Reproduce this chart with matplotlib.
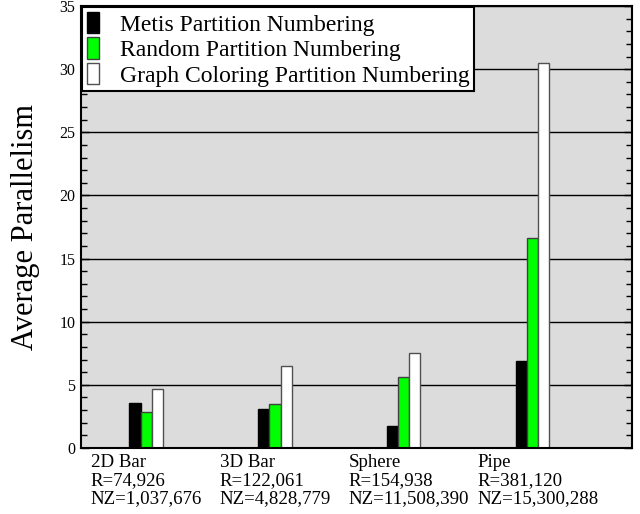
import matplotlib.pyplot as plt
import numpy as np
from matplotlib.ticker import MultipleLocator
from matplotlib.transforms import blended_transform_factory

# data
groups = ["2D Bar\nR=74,926\nNZ=1,037,676",
          "3D Bar\nR=122,061\nNZ=4,828,779",
          "Sphere\nR=154,938\nNZ=11,508,390",
          "Pipe\nR=381,120\nNZ=15,300,288"]
metis = [3.55, 3.1, 1.75, 6.85]
random_num = [2.85, 3.45, 5.65, 16.6]
coloring = [4.7, 6.5, 7.5, 30.45]
series_names = ["Metis Partition Numbering",
                "Random Partition Numbering",
                "Graph Coloring Partition Numbering"]

plt.rcParams['font.family'] = ['Liberation Serif', 'DejaVu Serif']

fig = plt.figure(figsize=(6.4, 5.14), dpi=100)
ax = fig.add_axes([81 / 640, 1 - 448 / 514, 551 / 640, 442 / 514])
ax.set_facecolor('#dcdcdc')

x = np.arange(len(groups))
w = 0.086
ax.bar(x - w, metis, w, color='black', edgecolor='black', linewidth=1, label=series_names[0], zorder=3)
ax.bar(x, random_num, w, color='#00ff00', edgecolor='#404040', linewidth=1, label=series_names[1], zorder=3)
ax.bar(x + w, coloring, w, color='white', edgecolor='#505050', linewidth=1, label=series_names[2], zorder=3)

ax.set_xlim(-0.505, 3.77)
ax.set_ylim(0, 35)
ax.yaxis.set_major_locator(MultipleLocator(5))
ax.yaxis.set_minor_locator(MultipleLocator(1))
ax.grid(axis='y', which='major', color='black', linewidth=1, zorder=1)
ax.tick_params(axis='y', which='both', direction='in', left=True, right=True, labelsize=11.5, pad=4)
ax.tick_params(axis='y', which='major', length=6, width=1)
ax.tick_params(axis='y', which='minor', length=4, width=1)
ax.set_xticks([])
for s in ax.spines.values():
    s.set_linewidth(1.5)
    s.set_zorder(5)

ax.set_ylabel("Average Parallelism", fontsize=22, labelpad=14)

trans = blended_transform_factory(ax.transData, ax.transAxes)
for i, g in enumerate(groups):
    ax.text(i - 0.43, -0.014, g, transform=trans, ha='left', va='top', fontsize=13.6, linespacing=1.08)

leg = ax.legend(loc='upper left', bbox_to_anchor=(0.0, 1.0), fontsize=17, frameon=True, fancybox=False,
                framealpha=1, edgecolor='black', handlelength=0.5, handleheight=1.0, handletextpad=0.9,
                labelspacing=0.08, borderpad=0.2, borderaxespad=0.05)
leg.get_frame().set_linewidth(1.5)
leg.set_zorder(6)

fig.savefig("out.png", dpi=100)
